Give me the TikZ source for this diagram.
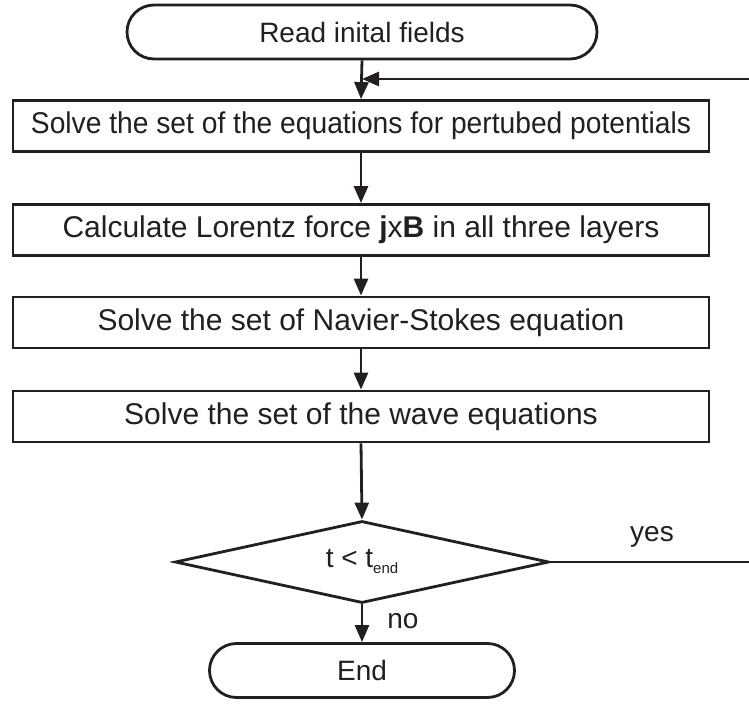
\documentclass[tikz,border=0pt]{standalone}
\usepackage{fontspec}
\setmainfont{Liberation Sans}
\usetikzlibrary{shapes.geometric,shapes.misc,arrows.meta}
\definecolor{ink}{RGB}{35,31,32}
\begin{document}
\begin{tikzpicture}[x=1pt,y=-1pt,
  every node/.style={text=ink,font=\fontsize{28}{32}\selectfont},
  base/.style={draw=ink,line width=2.8pt,inner sep=0pt},
  terminal/.style={base,rounded rectangle,minimum height=54pt},
  procbox/.style={base,rectangle,minimum width=696pt,minimum height=51pt,
    font=\fontsize{30}{34}\selectfont},
  decision/.style={base,diamond,aspect=4.5,minimum width=374pt,minimum height=82pt},
  flow/.style={draw=ink,line width=2.8pt,-{Triangle[length=17pt,width=14pt]}},
  plain/.style={draw=ink,line width=2.8pt},
  lbl/.style={inner sep=0pt}]
\useasboundingbox (0,0) rectangle (749,711);

\node[terminal,minimum width=470pt] (start) at (362,32) {Read inital fields};
\node[procbox] (pot) at (361,126)
  {\scalebox{0.94}[1]{Solve the set of the equations for pertubed potentials}};
\node[procbox] (lor) at (361,230) {Calculate Lorentz force \textbf{j}x\textbf{B} in all three layers};
\node[procbox] (ns) at (361,322.5) {Solve the set of Navier-Stokes equation};
\node[procbox] (wave) at (361,416.5) {Solve the set of the wave equations};
\node[decision] (test) at (362,562) {t < t{\fontsize{15}{17}\selectfont\raisebox{-6pt}{end}}};
\node[terminal,minimum width=305pt] (stop) at (362,670.5) {End};

% loop-back route, running off the right edge
\coordinate (join) at (362,79);
\coordinate (far) at (790,0);

\draw[flow] (start.south) -- (pot.north);
\draw[flow] (pot.south) -- (lor.north);
\draw[flow] (lor.south) -- (ns.north);
\draw[flow] (ns.south) -- (wave.north);
\draw[flow] (wave.south) -- (test.north);
\draw[flow] (test.south) -- node[lbl,right=24pt,pos=0.45] {no} (stop.north);

\draw[plain] (test.east) -- (far |- test.east) -- (far |- join);
\draw[flow] (far |- join) -- (join);

\node[lbl] (yes) at (652,537) {yes};
\end{tikzpicture}
\end{document}
